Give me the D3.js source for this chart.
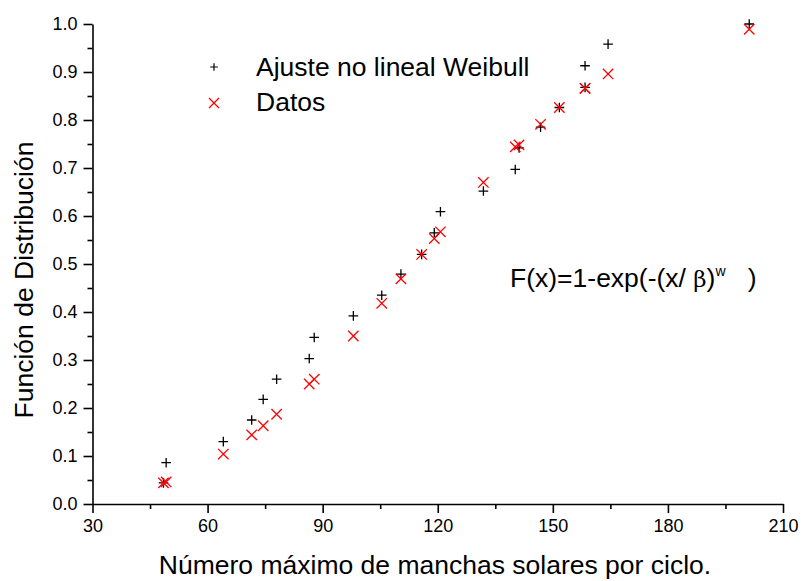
<!DOCTYPE html>
<html>
<head>
<meta charset="utf-8">
<script src="https://cdn.jsdelivr.net/npm/d3@7"></script>
<style>
    body { margin: 0; background: #fff; }
    svg { font-family: "Liberation Sans", Arial, sans-serif; }
</style>
</head>
<body>
<svg id="canvas" width="803" height="581"></svg>
<script>
// maximos de manchas solares por ciclo (eje x)
const manchas = [48.5, 49.2, 64.1, 71.5, 74.5, 78.0, 86.5, 87.8, 98.0, 105.4, 110.4, 115.8,
    119.1, 120.7, 131.9, 140.2, 141.2, 146.8, 151.7, 158.4, 158.4, 164.4, 201.2];

const ajuste = [0.044, 0.086, 0.130, 0.175, 0.218, 0.260, 0.303, 0.347, 0.392, 0.435, 0.479, 0.520,
    0.565, 0.609, 0.652, 0.697, 0.742, 0.785, 0.826, 0.868, 0.913, 0.958, 1.000];

const datos = [0.044, 0.046, 0.104, 0.144, 0.163, 0.187, 0.250, 0.260, 0.350, 0.418, 0.469, 0.520,
    0.553, 0.567, 0.670, 0.744, 0.748, 0.791, 0.826, 0.866, 0.866, 0.896, 0.989];

const xTicks = [30, 60, 90, 120, 150, 180, 210];
const yTicks = [0, 0.1, 0.2, 0.3, 0.4, 0.5, 0.6, 0.7, 0.8, 0.9, 1.0];

const canvas = d3.select("#canvas");

const x = d3.scaleLinear().domain([30, 210]).range([92.5, 783]);
const y = d3.scaleLinear().domain([0, 1]).range([504, 24]);

// ejes
const xAxis = canvas.append("g").attr("transform", "translate(0,504)");
xAxis.call(d3.axisBottom(x).tickValues(xTicks).tickSize(9).tickSizeOuter(0).tickPadding(6));
xAxis.append("g")
    .call(d3.axisBottom(x).tickValues(d3.range(45, 210, 30)).tickSize(5).tickFormat(""))
    .select(".domain").remove();

const yAxis = canvas.append("g").attr("transform", "translate(92.5,0)");
yAxis.call(d3.axisLeft(y).tickValues(yTicks).tickSize(9).tickSizeOuter(0).tickPadding(6)
    .tickFormat(d3.format(".1f")));
yAxis.append("g")
    .call(d3.axisLeft(y).tickValues(d3.range(0.05, 1, 0.1)).tickSize(5).tickFormat(""))
    .select(".domain").remove();

canvas.selectAll(".domain, .tick line")
    .attr("stroke", "#000")
    .attr("stroke-width", 1.6);
canvas.selectAll(".tick text")
    .attr("fill", "#000")
    .style("font-size", "18px")
    .style("font-family", "'Liberation Sans', Arial, sans-serif");

// titulos
canvas.append("text")
    .attr("x", 435)
    .attr("y", 574)
    .attr("text-anchor", "middle")
    .style("font-size", "26.5px")
    .text("Número máximo de manchas solares por ciclo.");

canvas.append("text")
    .attr("transform", "translate(33,280) rotate(-90)")
    .attr("text-anchor", "middle")
    .style("font-size", "26.5px")
    .text("Función de Distribución");

// marcadores
const plusPath = (s) => `M${-s},0H${s}M0,${-s}V${s}`;
const crossPath = (s) => `M${-s},${-s}L${s},${s}M${-s},${s}L${s},${-s}`;

canvas.append("g")
    .selectAll("path")
    .data(manchas.map((m, i) => ({ m: m, v: ajuste[i] })))
    .enter()
    .append("path")
    .attr("d", plusPath(4.8))
    .attr("transform", (d) => `translate(${x(d.m)},${y(d.v)})`)
    .attr("stroke", "#000")
    .attr("stroke-width", 1.3)
    .attr("fill", "none");

canvas.append("g")
    .selectAll("path")
    .data(manchas.map((m, i) => ({ m: m, v: datos[i] })))
    .enter()
    .append("path")
    .attr("d", crossPath(5.2))
    .attr("transform", (d) => `translate(${x(d.m)},${y(d.v)})`)
    .attr("stroke", "#ff0000")
    .attr("stroke-width", 1.3)
    .attr("fill", "none");

// leyenda
const legend = canvas.append("g");
legend.append("path")
    .attr("d", plusPath(3.8))
    .attr("transform", "translate(214,67)")
    .attr("stroke", "#000")
    .attr("stroke-width", 1.2);
legend.append("text")
    .attr("x", 256)
    .attr("y", 76)
    .style("font-size", "26.5px")
    .text("Ajuste no lineal Weibull");
legend.append("path")
    .attr("d", crossPath(5))
    .attr("transform", "translate(214,103)")
    .attr("stroke", "#ff0000")
    .attr("stroke-width", 1.3);
legend.append("text")
    .attr("x", 256)
    .attr("y", 111)
    .style("font-size", "26.5px")
    .text("Datos");

// formula
const formula = canvas.append("text")
    .attr("x", 510)
    .attr("y", 287)
    .style("font-size", "26.5px")
    .style("white-space", "pre");
formula.append("tspan").text("F(x)=1-exp(-(x/ ");
formula.append("tspan").style("font-family", "'DejaVu Serif', serif").style("font-size", "23px").text("β");
formula.append("tspan").text(")");
formula.append("tspan").attr("dy", -11).style("font-size", "14px").text("w");
formula.append("tspan").attr("dy", 11).text("   )");
</script>
</body>
</html>
